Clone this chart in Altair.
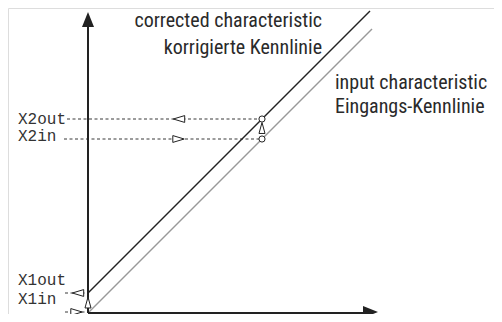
import altair as alt
import pandas as pd

# Schematic coordinates (units = px from origin, y upward)
input_x = [0, 284]
input_y = [0, 284]
corr_x = [0, 282]
corr_y = [20, 302]
x2 = 174
x2_in, x2_out = 174, 194
x1_in, x1_out = 1, 20

label_names = ["X2out", "X2in", "X1out", "X1in"]
label_y = [194, 177, 33, 14]

desc_text = ["corrected characteristic", "korrigierte Kennlinie",
             "input characteristic", "Eingangs-Kennlinie"]
desc_x = [234, 234, 247, 247]
desc_y = [292, 265, 230, 206]
desc_align = ["right", "right", "left", "left"]

W, H = 486, 306
xs = alt.Scale(domain=[-80, 406], nice=False, zero=False)
ys = alt.Scale(domain=[-1, 305], nice=False, zero=False)
DARK = "#222222"
DESC_FONT = "Liberation Sans Narrow, Roboto Condensed, Roboto"

def X(f="x"):
    return alt.X(f"{f}:Q", scale=xs, axis=None)

def Y(f="y"):
    return alt.Y(f"{f}:Q", scale=ys, axis=None)

# axes
axes_v = alt.Chart(pd.DataFrame({"x": [0, 0], "y": [0, 288]})).mark_line(
    color=DARK, strokeWidth=2).encode(x=X(), y=Y())
axes_h = alt.Chart(pd.DataFrame({"x": [0, 280], "y": [0, 0]})).mark_line(
    color=DARK, strokeWidth=2).encode(x=X(), y=Y())

arrow_up = alt.Chart(pd.DataFrame({"x": [0], "y": [293.5]})).mark_point(
    shape="M0,-1L0.8,1L-0.8,1Z", size=225, filled=True, color=DARK, opacity=1
).encode(x=X(), y=Y())
arrow_right = alt.Chart(pd.DataFrame({"x": [282.5], "y": [1]})).mark_point(
    shape="M1,0L-1,0.8L-1,-0.8Z", size=225, filled=True, color=DARK, opacity=1
).encode(x=X(), y=Y())

# characteristics
inp = alt.Chart(pd.DataFrame({"x": input_x, "y": input_y})).mark_line(
    color="#999999", strokeWidth=1.4).encode(x=X(), y=Y())
corr = alt.Chart(pd.DataFrame({"x": corr_x, "y": corr_y})).mark_line(
    color=DARK, strokeWidth=1.4).encode(x=X(), y=Y())

# dashed guide lines
guides = pd.DataFrame({
    "x": [-21, -24, -23, -23],
    "x2": [x2, x2, 0, 0],
    "y": [x2_out, x2_in, x1_out, x1_in],
})
guide_rules = alt.Chart(guides).mark_rule(
    color=DARK, strokeWidth=0.9, strokeDash=[3, 2.5]
).encode(x=X(), x2="x2:Q", y=Y())

# open arrow heads
tri_left = alt.Chart(pd.DataFrame({"x": [91, -10], "y": [x2_out, x1_out]})).mark_point(
    shape="M-1,0L1,-0.6L1,0.6Z", size=130, filled=False, stroke=DARK,
    fill="white", strokeWidth=1, opacity=1).encode(x=X(), y=Y())
tri_right = alt.Chart(pd.DataFrame({"x": [90.5, -11.5], "y": [x2_in, x1_in]})).mark_point(
    shape="M1,0L-1,-0.6L-1,0.6Z", size=130, filled=False, stroke=DARK,
    fill="white", strokeWidth=1, opacity=1).encode(x=X(), y=Y())
tri_up = alt.Chart(pd.DataFrame({"x": [x2, 0], "y": [185, 10.5]})).mark_point(
    shape="M0,-1L0.55,1L-0.55,1Z", size=120, filled=False, stroke=DARK,
    fill="white", strokeWidth=1, opacity=1).encode(x=X(), y=Y())

pts = alt.Chart(pd.DataFrame({"x": [x2, x2], "y": [x2_out, x2_in]})).mark_point(
    shape="circle", size=38, filled=False, stroke=DARK, fill="white",
    strokeWidth=1, opacity=1).encode(x=X(), y=Y())

labels = alt.Chart(pd.DataFrame({"t": label_names, "x": [-70] * 4, "y": label_y})).mark_text(
    font="Liberation Mono", fontSize=16, align="left", baseline="middle", color="#333333"
).encode(x=X(), y=Y(), text="t:N")

desc_df = pd.DataFrame({"t": desc_text, "x": desc_x, "y": desc_y, "a": desc_align})
desc_r = alt.Chart(desc_df[desc_df.a == "right"]).mark_text(
    font=DESC_FONT, fontSize=20, align="right",
    baseline="middle", color="#2a2a2a"
).encode(x=X(), y=Y(), text="t:N")
desc_l = alt.Chart(desc_df[desc_df.a == "left"]).mark_text(
    font=DESC_FONT, fontSize=20, align="left",
    baseline="middle", color="#2a2a2a"
).encode(x=X(), y=Y(), text="t:N")

chart = alt.layer(
    guide_rules, inp, corr, axes_v, axes_h, arrow_up, arrow_right,
    tri_left, tri_right, tri_up, pts, labels, desc_r, desc_l
).properties(
    width=W, height=H,
    autosize=alt.AutoSizeParams(type="none"),
    padding=0,
).configure_view(stroke=None).configure(background="white")

chart.save("out.html", embed_options={"renderer": "svg", "actions": False})
